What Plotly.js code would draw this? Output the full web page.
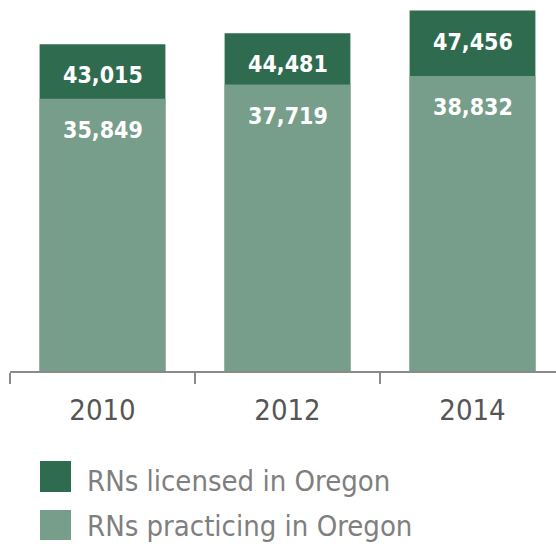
<!DOCTYPE html>
<html>
<head>
<meta charset="utf-8">
<script src="https://cdn.plot.ly/plotly-3.0.1.min.js"></script>
<style>
  html, body { margin: 0; padding: 0; background: #ffffff; }
  #chart { width: 556px; height: 546px; }
</style>
</head>
<body>
<div id="chart"></div>
<script>
// ---- data ----
const years = ['2010', '2012', '2014'];
const licensed = [43015, 44481, 47456];
const practicing = [35849, 37719, 38832];
const seriesNames = ['RNs licensed in Oregon', 'RNs practicing in Oregon'];

// ---- style ----
const DARK = '#2F6B4E';
const LIGHT = '#769E8A';
const FONT = '"DejaVu Sans Condensed", "Liberation Sans Narrow", sans-serif';
const fmt = v => v.toLocaleString('en-US');

const W = 556, H = 546;
const M = { l: 10, r: 0, t: 0, b: 175 };
const plotW = W - M.l - M.r, plotH = H - M.t - M.b;
const px2x = p => (p - M.l) / plotW;
const py2y = p => (M.t + plotH - p) / plotH;

const traces = [
  {
    type: 'bar', x: years, y: licensed, name: seriesNames[0],
    marker: { color: DARK }, width: 0.68, hoverinfo: 'x+y', showlegend: false
  },
  {
    type: 'bar', x: years, y: practicing, name: seriesNames[1],
    marker: { color: LIGHT }, width: 0.68, hoverinfo: 'x+y', showlegend: false
  }
];

const annotations = [];
const labelFont = { family: FONT, size: 23, color: '#ffffff' };
years.forEach((yr, i) => {
  annotations.push({ x: i, y: licensed[i], xref: 'x', yref: 'y', text: '<b>' + fmt(licensed[i]) + '</b>',
    showarrow: false, yanchor: 'middle', yshift: -31, font: labelFont });
  annotations.push({ x: i, y: practicing[i], xref: 'x', yref: 'y', text: '<b>' + fmt(practicing[i]) + '</b>',
    showarrow: false, yanchor: 'middle', yshift: -31, font: labelFont });
});

// legend (custom, large swatches)
const legendRows = [
  { name: seriesNames[0], color: DARK, top: 461, bottom: 492, textMid: 481 },
  { name: seriesNames[1], color: LIGHT, top: 510, bottom: 540, textMid: 526 }
];
const shapes = [];
legendRows.forEach(r => {
  shapes.push({ type: 'rect', xref: 'paper', yref: 'paper',
    x0: px2x(40), x1: px2x(71), y0: py2y(r.bottom), y1: py2y(r.top),
    fillcolor: r.color, line: { width: 0 } });
  annotations.push({ xref: 'paper', yref: 'paper', x: px2x(85), y: py2y(r.textMid),
    xanchor: 'left', yanchor: 'middle', text: r.name, showarrow: false,
    font: { family: FONT, size: 29, color: '#7f7f7f' } });
});

const layout = {
  width: W, height: H,
  margin: M,
  paper_bgcolor: '#ffffff', plot_bgcolor: '#ffffff',
  barmode: 'overlay',
  showlegend: false,
  xaxis: {
    type: 'category', range: [-0.5, -0.5 + plotW / 185],
    showline: true, linecolor: '#8a8a8a', linewidth: 1.5,
    ticks: 'outside', ticklen: 11, tickwidth: 1.5, tickcolor: '#8a8a8a',
    tickson: 'boundaries', showgrid: false, zeroline: false,
    ticklabelstandoff: 13,
    tickfont: { family: FONT, size: 29, color: '#555555' },
    fixedrange: true
  },
  yaxis: {
    range: [0, 48850], visible: false, showgrid: false, zeroline: false, fixedrange: true
  },
  annotations: annotations,
  shapes: shapes
};

Plotly.newPlot('chart', traces, layout, { displayModeBar: false, staticPlot: true });
</script>
</body>
</html>
